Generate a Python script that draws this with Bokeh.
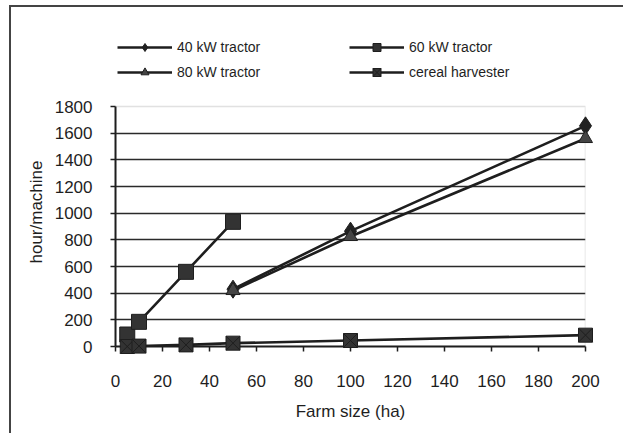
from bokeh.plotting import figure
from bokeh.models import Range1d, Legend, LegendItem, FixedTicker, BoxAnnotation, Title
from bokeh.embed import file_html
from bokeh.resources import INLINE

# ---- data ----
size_40_80 = [50, 100, 200]
tractor_40 = [430, 865, 1655]
tractor_80 = [420, 825, 1560]
size_60 = [5, 10, 30, 50]
tractor_60 = [90, 185, 560, 935]
size_harv = [5, 10, 30, 50, 100, 200]
harvester = [0, 3, 12, 25, 45, 85]

x_ticks = [0, 20, 40, 60, 80, 100, 120, 140, 160, 180, 200]
y_ticks = [0, 200, 400, 600, 800, 1000, 1200, 1400, 1600, 1800]
X_MAX = 200
Y_MAX = 1800

FONT = "Liberation Sans"
INK = "#1e1e1e"

# frame is taller than the value area so the legend can sit inside it
p = figure(frame_width=470, frame_height=318,
           min_border_left=104, min_border_top=21,
           min_border_right=38, min_border_bottom=87,
           x_range=Range1d(0, X_MAX), y_range=Range1d(0, 2385),
           output_backend="svg", toolbar_location=None,
           background_fill_color="white", border_fill_color="white")
p.margin = (5, 0, 0, 9)
p.styles = {"border-left": "2px solid #444", "border-top": "2px solid #444"}

p.outline_line_color = None
p.add_layout(BoxAnnotation(left=0, right=X_MAX, bottom=0, top=Y_MAX,
                           fill_color=None, line_color="#9a9a9a", line_width=1.5,
                           level="underlay"))

p.xgrid.visible = False
p.ygrid.ticker = FixedTicker(ticks=y_ticks[1:-1])
p.ygrid.grid_line_color = "#2a2a2a"
p.ygrid.grid_line_width = 1.5

for ax in (p.xaxis[0], p.yaxis[0]):
    ax.axis_line_color = INK
    ax.axis_line_width = 2
    ax.major_tick_line_color = INK
    ax.major_tick_line_width = 1.5
    ax.major_tick_out = 5
    ax.major_tick_in = 0
    ax.minor_tick_line_color = None
    ax.major_label_text_font = FONT
    ax.major_label_text_font_size = "17px"
    ax.major_label_text_color = INK
    ax.axis_label_text_font = FONT
    ax.axis_label_text_font_size = "17px"
    ax.axis_label_text_font_style = "normal"
    ax.axis_label_text_color = INK

p.yaxis.bounds = (0, Y_MAX)
p.xaxis.ticker = FixedTicker(ticks=x_ticks)
p.yaxis.ticker = FixedTicker(ticks=y_ticks)
p.xaxis.axis_label = "Farm size (ha)"
p.xaxis.major_label_standoff = 23
p.yaxis.major_label_standoff = 18
p.xaxis.axis_label_standoff = 12

# y-axis title, centred on the value area (not on the taller frame)
ytitle = Title(text="hour/machine", align="left", offset=83, standoff=12,
               text_font=FONT, text_font_size="17px", text_font_style="normal",
               text_color=INK)
p.add_layout(ytitle, "left")

LW = 2.6
l40 = p.line(size_40_80, tractor_40, line_color=INK, line_width=LW)
m40 = p.scatter(size_40_80, tractor_40, marker="diamond", size=18,
                fill_color="#222222", line_color=INK, level="overlay")
l60 = p.line(size_60, tractor_60, line_color=INK, line_width=LW)
m60 = p.scatter(size_60, tractor_60, marker="square", size=15,
                fill_color="#333333", line_color=INK, level="overlay")
l80 = p.line(size_40_80, tractor_80, line_color=INK, line_width=LW)
m80 = p.scatter(size_40_80, tractor_80, marker="triangle", size=14,
                fill_color="#444444", line_color=INK, level="overlay")
lh = p.line(size_harv, harvester, line_color=INK, line_width=LW)
mh = p.scatter(size_harv, harvester, marker="square_x", size=14,
               fill_color="#333333", line_color=INK, level="overlay")


def make_legend(items, x, y):
    lg = Legend(items=items, location=(x, y))
    lg.border_line_color = None
    lg.background_fill_alpha = 0
    lg.glyph_width = 55
    lg.glyph_height = 20
    lg.label_height = 20
    lg.spacing = 5
    lg.padding = 0
    lg.margin = 0
    lg.label_standoff = 5
    lg.label_text_font = FONT
    lg.label_text_font_size = "14px"
    lg.label_text_color = INK
    return lg


leg1 = make_legend([LegendItem(label="40 kW tractor", renderers=[l40, m40]),
                    LegendItem(label="80 kW tractor", renderers=[l80, m80])],
                   2, 264)
leg2 = make_legend([LegendItem(label="60 kW tractor", renderers=[l60, m60]),
                    LegendItem(label="cereal harvester", renderers=[lh, mh])],
                   234, 264)
p.add_layout(leg1, "center")
p.add_layout(leg2, "center")

open("out.html", "w").write(file_html(p, INLINE))
